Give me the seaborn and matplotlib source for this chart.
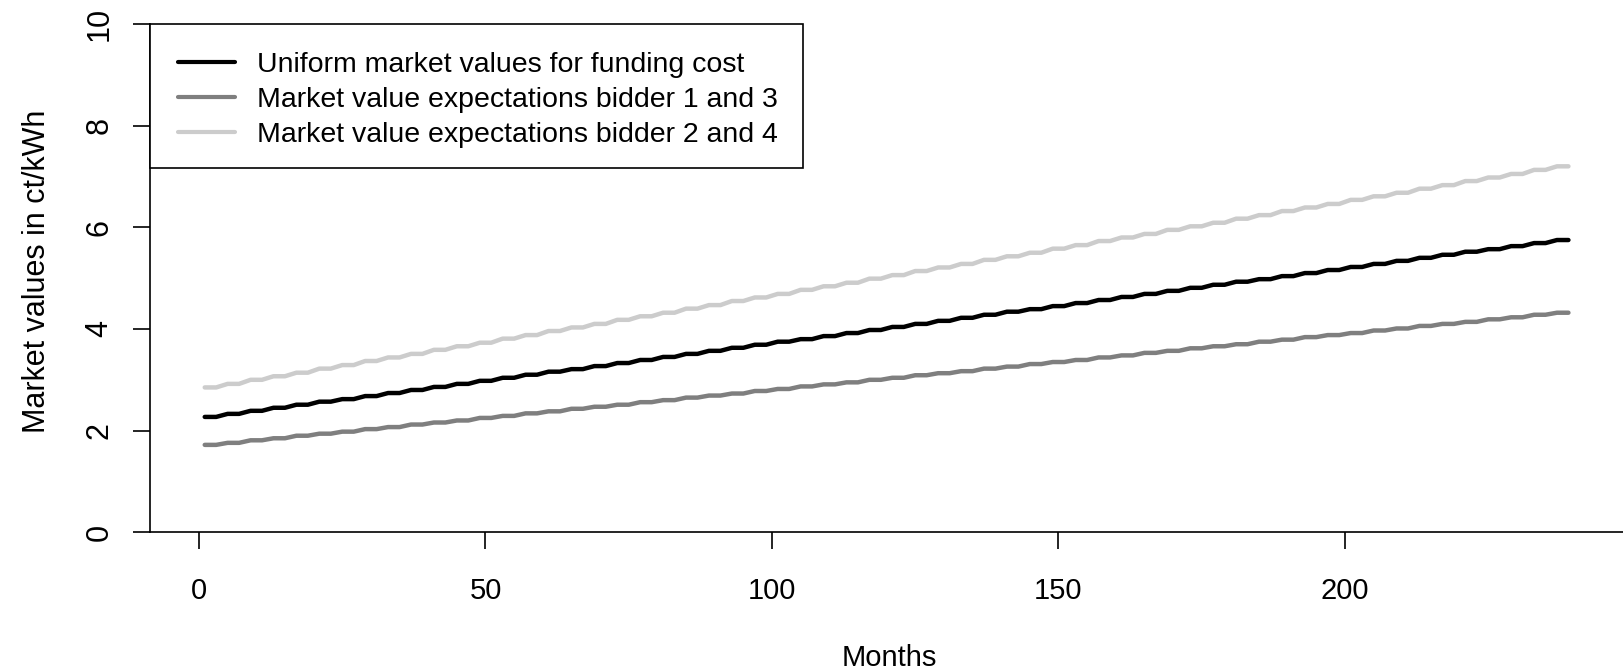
import numpy as np
import pandas as pd
import matplotlib
matplotlib.use("Agg")
import matplotlib.pyplot as plt
from matplotlib.lines import Line2D
from matplotlib.patches import Rectangle
import seaborn as sns

# Market values are set once per four-month period; each period's value is
# drawn at the first and third month of the period.
PERIOD = 4
period_starts = np.arange(1, 241, PERIOD)

uniform_values = [
    2.27, 2.33, 2.39, 2.45, 2.51, 2.57, 2.62, 2.68, 2.74, 2.80,
    2.86, 2.92, 2.98, 3.04, 3.10, 3.16, 3.21, 3.27, 3.33, 3.39,
    3.45, 3.51, 3.57, 3.63, 3.69, 3.75, 3.80, 3.86, 3.92, 3.98,
    4.04, 4.10, 4.16, 4.22, 4.28, 4.34, 4.39, 4.45, 4.51, 4.57,
    4.63, 4.69, 4.75, 4.81, 4.87, 4.93, 4.98, 5.04, 5.10, 5.16,
    5.22, 5.28, 5.34, 5.40, 5.46, 5.52, 5.57, 5.63, 5.69, 5.75,
]
bidder_13_values = [
    1.72, 1.76, 1.81, 1.85, 1.90, 1.94, 1.98, 2.03, 2.07, 2.12,
    2.16, 2.20, 2.25, 2.29, 2.34, 2.38, 2.43, 2.47, 2.51, 2.56,
    2.60, 2.65, 2.69, 2.73, 2.78, 2.82, 2.87, 2.91, 2.95, 3.00,
    3.04, 3.09, 3.13, 3.17, 3.22, 3.26, 3.31, 3.35, 3.39, 3.44,
    3.48, 3.53, 3.57, 3.62, 3.66, 3.70, 3.75, 3.79, 3.84, 3.88,
    3.92, 3.97, 4.01, 4.06, 4.10, 4.14, 4.19, 4.23, 4.28, 4.32,
]
bidder_24_values = [
    2.85, 2.92, 3.00, 3.07, 3.14, 3.22, 3.29, 3.37, 3.44, 3.51,
    3.59, 3.66, 3.73, 3.81, 3.88, 3.96, 4.03, 4.10, 4.18, 4.25,
    4.32, 4.40, 4.47, 4.55, 4.62, 4.69, 4.77, 4.84, 4.91, 4.99,
    5.06, 5.14, 5.21, 5.28, 5.36, 5.43, 5.50, 5.58, 5.65, 5.73,
    5.80, 5.87, 5.95, 6.02, 6.09, 6.17, 6.24, 6.32, 6.39, 6.46,
    6.54, 6.61, 6.68, 6.76, 6.83, 6.91, 6.98, 7.05, 7.13, 7.20,
]

series_names = [
    "Uniform market values for funding cost",
    "Market value expectations bidder 1 and 3",
    "Market value expectations bidder 2 and 4",
]
series_colors = ["#000000", "#7f7f7f", "#cccccc"]

x_ticks = [0, 50, 100, 150, 200]
y_ticks = [0, 2, 4, 6, 8, 10]

# Months at which each period value is plotted (first and third month)
plot_months = np.column_stack([period_starts, period_starts + 2]).ravel()

frames = []
for name, vals in zip(series_names, [uniform_values, bidder_13_values, bidder_24_values]):
    frames.append(pd.DataFrame({
        "Months": plot_months,
        "value": np.repeat(vals, 2),
        "series": name,
    }))
df = pd.concat(frames, ignore_index=True)

sns.set_theme(style="white")
plt.rcParams["font.family"] = ["Liberation Sans", "DejaVu Sans"]
plt.rcParams["text.color"] = "black"
plt.rcParams["axes.labelcolor"] = "black"

W, H = 1624, 672
AX_LEFT, AX_TOP, AX_BOTTOM, AX_WIDTH = 149.95, 24.0, 532.3, 1479.0
fig = plt.figure(figsize=(W / 100, H / 100), dpi=100, facecolor="white")
ax = fig.add_axes([AX_LEFT / W, 1 - AX_BOTTOM / H, AX_WIDTH / W, (AX_BOTTOM - AX_TOP) / H])

sns.lineplot(
    data=df, x="Months", y="value", hue="series", hue_order=series_names,
    palette=dict(zip(series_names, series_colors)), linewidth=3.2,
    estimator=None, legend=False, ax=ax,
)
for ln in ax.get_lines():
    ln.set_solid_capstyle("round")
    ln.set_solid_joinstyle("round")

ax.set_xlim(-8.56, 249.56)
ax.set_ylim(0, 10)
ax.set_xticks(x_ticks)
ax.set_yticks(y_ticks)
ax.set_xticklabels([str(t) for t in x_ticks])
ax.set_yticklabels([str(t) for t in y_ticks])

for side in ["top", "right"]:
    ax.spines[side].set_visible(False)
for side in ["left", "bottom"]:
    ax.spines[side].set_color("black")
    ax.spines[side].set_linewidth(1.2)

ax.tick_params(axis="both", which="major", bottom=True, left=True,
               direction="out", length=12.5, width=1.2, color="black",
               labelcolor="black")
ax.tick_params(axis="x", pad=20, labelsize=21)
ax.tick_params(axis="y", pad=13, labelsize=22, labelrotation=90)
for lab in ax.get_yticklabels():
    lab.set_va("center")

ax.set_xlabel("Months", fontsize=21, color="black")
ax.set_ylabel("Market values in ct/kWh", fontsize=22, color="black")
ax.xaxis.set_label_coords(0.5, (AX_BOTTOM - 658) / (AX_BOTTOM - AX_TOP))
ax.xaxis.label.set_va("center")
ax.yaxis.set_label_coords((37 - AX_LEFT) / AX_WIDTH, 0.514)
ax.yaxis.label.set_va("center")

# Legend entries, boxed by a frame anchored at the top-left plot corner
handles = [Line2D([], [], color=c, linewidth=3.0) for c in series_colors]
leg = ax.legend(
    handles, series_names, loc="upper left", bbox_to_anchor=(0, 1),
    bbox_transform=ax.transAxes, borderaxespad=0, frameon=False,
    fontsize=20.5, handlelength=1.99, handletextpad=0.8,
    labelspacing=0.31, borderpad=0.98, labelcolor="black",
)
legend_right = (803 - AX_LEFT) / AX_WIDTH
legend_bottom = (168.3 - AX_TOP) / (AX_BOTTOM - AX_TOP)
ax.add_patch(Rectangle(
    (0, 1 - legend_bottom), legend_right, legend_bottom,
    transform=ax.transAxes, facecolor="white", edgecolor="black",
    linewidth=1.2, zorder=4, clip_on=False,
))
leg.set_zorder(5)

fig.savefig("out.png", dpi=100, facecolor="white")
